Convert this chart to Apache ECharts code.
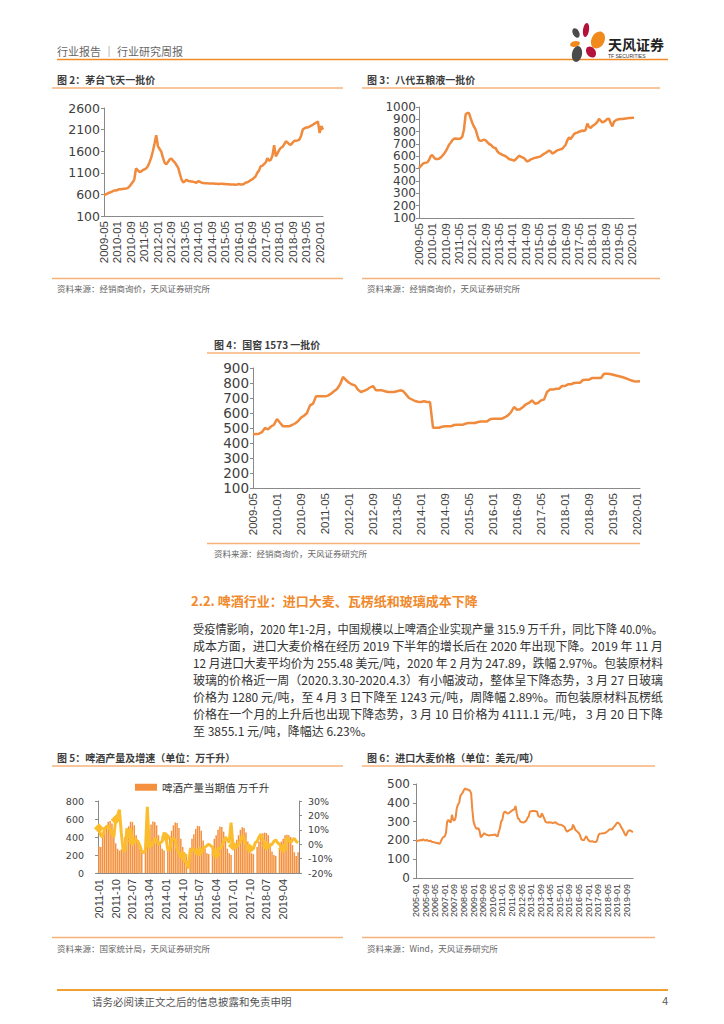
<!DOCTYPE html>
<html>
<head>
<meta charset="utf-8">
<script src="https://cdn.jsdelivr.net/npm/echarts@6/dist/echarts.min.js"></script>
<style>
html,body{margin:0;padding:0;background:#fff;}
#page{position:relative;width:724px;height:1024px;overflow:hidden;}
#chart{position:absolute;left:0;top:0;width:724px;height:1024px;}
.pl{position:absolute;left:193px;height:17px;line-height:17px;white-space:nowrap;font-family:"Noto Sans CJK SC","Noto Sans",sans-serif;font-size:12px;color:#333;transform-origin:0 50%;}
</style>
</head>
<body>
<div id="page"><div id="chart"></div><div id="para"></div></div>
<script>
// ---------- data ----------
const maotaiPrice = [580,600,620,640,650,670,690,690,700,720,720,725,730,735,745,780,830,880,950,1200,1160,1120,1130,1160,1180,1200,1250,1340,1450,1600,1780,1970,1720,1650,1590,1450,1330,1300,1350,1410,1430,1380,1340,1280,1220,1080,950,880,900,940,910,905,900,895,880,870,910,890,870,865,860,860,855,855,850,850,845,845,840,845,845,840,840,835,835,830,830,830,825,830,840,830,830,840,870,880,900,930,950,980,1020,1100,1150,1250,1260,1300,1340,1440,1380,1400,1500,1740,1480,1550,1630,1680,1700,1760,1830,1800,1760,1750,1800,1840,1840,1850,1870,1960,2100,2130,2150,2150,2170,2190,2210,2240,2260,2290,2020,2180,2100];
const wuliangyePrice = [505,520,535,545,548,551,570,600,610,590,578,578,580,590,605,620,640,665,694,710,730,743,745,743,742,745,760,820,940,951,951,910,870,840,816,770,729,725,730,735,730,715,700,694,680,670,667,640,627,620,612,607,600,590,578,575,570,565,575,590,605,598,592,586,570,558,565,575,580,586,588,592,596,600,610,620,627,637,646,640,622,630,640,648,652,658,662,678,694,730,754,740,760,780,789,792,800,803,810,805,816,865,840,830,845,855,865,880,903,890,876,880,890,903,905,870,843,880,892,898,900,902,903,905,907,908,910,911,912,913];
const guojiaoPrice = [458,460,462,473,500,491,510,522,560,535,511,511,511,520,530,545,569,582,600,651,662,711,711,711,711,716,729,745,760,790,840,820,802,790,784,755,740,748,756,770,780,751,751,751,745,740,740,740,745,751,747,724,700,690,680,675,673,678,673,673,502,502,502,508,511,511,511,520,522,522,522,530,533,533,533,540,544,544,544,558,562,562,562,562,572,584,605,640,622,625,640,658,667,684,662,667,684,689,740,756,756,762,762,780,780,791,791,800,802,802,820,822,822,833,833,833,833,862,862,860,855,850,845,840,833,826,818,812,810,811];
const beerOutput = [
 295,290,420,470,530,570,579,550,440,330,270,250,
 260,280,400,450,520,571,565,530,420,330,270,250,
 0,300,420,480,540,571,568,530,420,320,270,250,
 0,290,400,470,530,560,555,500,380,290,230,210,
 0,280,380,430,490,523,520,470,360,270,220,210,
 0,270,380,420,480,516,510,460,360,270,220,200,
 0,290,370,420,480,509,500,450,350,270,220,210,
 0,290,350,390,440,449,445,420,330,240,200,190,
 0,280,350,380,420,424,420,400,310,230,190,230];
const beerGrowth = [11,6,5,11,12,13,10,7,5,17,20,24,8,-4,-5,11,4,11,2,3,3,2,-1,-5,-6,-4,26,0,-1,0,4,3,0,1,2,8,5,-4,-4,3,4,3,-4,-6,-7,-8,-12,-12,-17,-4,-4,-3,-6,-7,-5,-5,-3,-2,-1,0,-1,-2,-6,-7,-3,-3,-2,2,5,3,1,15,-1,-2,-2,0,2,6,3,0,-2,-3,-4,-3,1,2,5,7,3,1,-1,-2,-1,0,2,3,1,0,-2,-3,-3,5,3,1,3,4,2,1];
const barleyPrice = [198,196,200,199,202,200,206,201,199,203,198,196,199,193,192,190,188,186,187,182,184,198,212,218,221,240,300,309,300,295,336,310,305,320,371,390,400,436,446,455,468,477,470,472,468,465,450,362,300,280,265,262,265,250,217,222,232,238,232,230,228,226,228,229,228,230,231,225,221,245,265,300,309,344,353,350,344,343,348,353,358,362,365,383,345,318,313,300,297,296,295,300,305,320,327,353,355,357,357,356,355,353,330,326,325,344,330,316,300,295,295,296,295,295,292,294,297,293,288,285,283,283,280,276,270,255,247,250,255,258,260,284,270,255,250,244,238,224,205,202,200,212,223,210,200,195,194,196,193,192,191,200,225,235,236,237,238,238,240,245,250,256,260,257,262,272,278,288,295,292,285,272,262,250,236,224,238,250,254,252,247,245];

function monthLabels(y, m, n) {
  const a = [];
  for (let i = 0; i < n; i++) {
    const k = m - 1 + i;
    a.push((y + Math.floor(k / 12)) + '-' + String(k % 12 + 1).padStart(2, '0'));
  }
  return a;
}
const maotaiMonths = monthLabels(2009, 5, maotaiPrice.length);
const wuliangyeMonths = monthLabels(2009, 5, wuliangyePrice.length);
const guojiaoMonths = monthLabels(2009, 5, guojiaoPrice.length);
const beerMonths = monthLabels(2011, 1, beerOutput.length);
const barleyMonths = monthLabels(2005, 1, barleyPrice.length);

const paragraphLines = [
 '受疫情影响，2020 年1-2月，中国规模以上啤酒企业实现产量 315.9 万千升，同比下降  40.0%。',
 '成本方面，进口大麦价格在经历 2019 下半年的增长后在 2020 年出现下降。2019 年 11 月',
 '12 月进口大麦平均价为 255.48 美元/吨，2020 年 2 月为 247.89，跌幅 2.97%。包装原材料',
 '玻璃的价格近一周（2020.3.30-2020.4.3）有小幅波动，整体呈下降态势，3 月  27 日玻璃',
 '价格为 1280 元/吨，至 4 月 3 日下降至 1243 元/吨，周降幅 2.89%。而包装原材料瓦楞纸',
 '价格在一个月的上升后也出现下降态势，3 月 10 日价格为 4111.1 元/吨，  3 月 20 日下降',
 '至 3855.1 元/吨，降幅达 6.23%。'
];

// ---------- styles ----------
const ORANGE = '#F08A3C';
const AXIS = '#8a8a8a';
const CJK = '"Noto Sans CJK SC","Noto Sans",sans-serif';
const plain = function (v) { return String(v); };

function xCat(gi, data, step, fs, lh, margin, boundaryGap) {
  return {type:'category', gridIndex:gi, data:data, boundaryGap:boundaryGap,
    axisLine:{show:true, onZero:false, lineStyle:{color:AXIS, width:1}},
    axisTick:{show:false},
    axisLabel:{rotate:90, interval:function (idx) { return idx % step === 0; }, fontSize:fs, lineHeight:lh,
      fontFamily:'Liberation Sans', color:'#404040', margin:margin, hideOverlap:false, showMinLabel:true, showMaxLabel:true},
    splitLine:{show:false}};
}
function yVal(gi, min, max, interval, fs, margin, extra, fmt) {
  return Object.assign({type:'value', gridIndex:gi, min:min, max:max, interval:interval,
    axisLine:{show:true, lineStyle:{color:AXIS, width:1}},
    axisTick:{show:true, length:3, lineStyle:{color:AXIS}},
    axisLabel:{fontSize:fs, lineHeight:Math.min(fs, 10), fontFamily:'DejaVu Sans', color:'#404040', margin:margin,
      formatter:fmt || plain, hideOverlap:false, showMinLabel:true, showMaxLabel:true},
    splitLine:{show:false}}, extra || {});
}
function txt(x, y, text, fs, opts) {
  opts = opts || {};
  return {type:'text', x:x, y:y, silent:true, style:{text:text, fontSize:fs, fontFamily:opts.family || CJK,
    fontWeight:opts.weight || 'normal', fill:opts.fill || '#444', align:opts.align || 'left', verticalAlign:'middle'}};
}
function hline(x1, x2, y, color, w) {
  return {type:'line', silent:true, shape:{x1:x1, y1:y, x2:x2, y2:y}, style:{stroke:color, lineWidth:w}};
}
function petal(cx, cy, rx, ry, rot, color) {
  return {type:'ellipse', x:cx, y:cy, rotation:rot, silent:true, shape:{cx:0, cy:0, rx:rx, ry:ry}, style:{fill:color}};
}

const TL = '#F7B27A';
const graphics = [
  // header
  txt(57, 51, '行业报告 ｜ 行业研究周报', 11, {fill:'#666'}),
  hline(57, 668, 59.5, '#F08A24', 1.5),
  petal(576, 33, 3.2, 5, 0.5, '#4a4a4a'),
  petal(586, 30, 3, 7, -0.15, '#B3123A'),
  petal(598, 40, 6.5, 9, -0.45, '#F18A1C'),
  petal(575, 44, 5, 2.8, 0.2, '#F18A1C'),
  petal(577, 54, 5, 8, -0.2, '#4a4a4a'),
  petal(591, 52, 4.5, 6, 0.6, '#B3123A'),
  txt(608, 44, '天风证券', 14, {weight:'bold', fill:'#222'}),
  txt(608, 56, 'TF SECURITIES', 5, {family:'Liberation Sans', fill:'#333'}),
  // chart 2
  txt(57, 79, '图 2：茅台飞天一批价', 10, {weight:'bold', fill:'#3c3c3c'}),
  hline(52, 343, 88, TL, 1.5),
  hline(52, 343, 278.5, TL, 1.5),
  txt(57, 288, '资料来源：经销商询价，天风证券研究所', 8.5, {fill:'#666'}),
  // chart 3
  txt(367, 79, '图 3：八代五粮液一批价', 10, {weight:'bold', fill:'#3c3c3c'}),
  hline(362, 660, 88, TL, 1.5),
  hline(362, 660, 278.5, TL, 1.5),
  txt(367, 288, '资料来源：经销商询价，天风证券研究所', 8.5, {fill:'#666'}),
  // chart 4
  txt(214, 344, '图 4：国窖 1573 一批价', 10, {weight:'bold', fill:'#3c3c3c'}),
  hline(207, 640, 353, TL, 1.5),
  hline(207, 640, 543.5, TL, 1.5),
  txt(214, 553, '资料来源：经销商询价，天风证券研究所', 8.5, {fill:'#666'}),
  // section heading
  txt(191, 600, '2.2. 啤酒行业：进口大麦、瓦楞纸和玻璃成本下降', 13, {weight:'bold', fill:'#F08A2C'}),
  // chart 5
  txt(57, 757, '图 5：啤酒产量及增速（单位：万千升）', 10, {weight:'bold', fill:'#3c3c3c'}),
  hline(52, 343, 766, TL, 1.5),
  hline(52, 343, 937.5, TL, 1.5),
  txt(57, 947.5, '资料来源：国家统计局，天风证券研究所', 8.5, {fill:'#666'}),
  // chart 6
  txt(367, 757, '图 6：进口大麦价格（单位：美元/吨）', 10, {weight:'bold', fill:'#3c3c3c'}),
  hline(362, 655, 766, TL, 1.5),
  hline(362, 655, 937.5, TL, 1.5),
  txt(367, 947.5, '资料来源：Wind，天风证券研究所', 8.5, {fill:'#666'}),
  // footer
  hline(57, 668, 990, '#F0A030', 2),
  txt(92, 1001, '请务必阅读正文之后的信息披露和免责申明', 10.5, {fill:'#555'}),
  txt(668, 1001, '4', 10.5, {family:'Liberation Sans', fill:'#555', align:'right'})
];

const chart = echarts.init(document.getElementById('chart'), null, {renderer:'svg'});
chart.setOption({
  animation:false,
  backgroundColor:'#fff',
  grid:[
    {left:104, top:108, width:219, height:108},
    {left:419, top:107, width:215, height:111},
    {left:253, top:368, width:387, height:120},
    {left:98, top:801, width:201, height:72},
    {left:416, top:784, width:217, height:94}
  ],
  legend:{left:130, top:777, itemWidth:22, itemHeight:7, itemGap:6,
    textStyle:{fontSize:10.5, fontFamily:CJK, color:'#333'},
    data:[{name:'啤酒产量当期值 万千升', icon:'rect'}]},
  xAxis:[
    xCat(0, maotaiMonths, 8, 11.5, 10, 5, false),
    xCat(1, wuliangyeMonths, 8, 11.5, 10, 5, false),
    xCat(2, guojiaoMonths, 8, 11.5, 10, 5, false),
    xCat(3, beerMonths, 9, 11, 10, 6, true),
    xCat(4, barleyMonths, 8, 9, 7, 6, false)
  ],
  yAxis:[
    yVal(0, 100, 2600, 500, 12.5, 4),
    yVal(1, 100, 1000, 100, 12, 3),
    yVal(2, 100, 900, 100, 13.5, 4),
    yVal(3, 0, 800, 200, 9.5, 14),
    yVal(3, -20, 30, 10, 9.5, 9, {position:'right'}, function (v) { return v + '%'; }),
    yVal(4, 0, 500, 100, 12, 6)
  ],
  graphic:graphics,
  series:[
    {type:'line', name:'茅台飞天一批价', xAxisIndex:0, yAxisIndex:0, data:maotaiPrice, showSymbol:false, lineStyle:{color:ORANGE, width:2.5}, itemStyle:{color:ORANGE}},
    {type:'line', name:'八代五粮液一批价', xAxisIndex:1, yAxisIndex:1, data:wuliangyePrice, showSymbol:false, lineStyle:{color:ORANGE, width:2.5}, itemStyle:{color:ORANGE}},
    {type:'line', name:'国窖1573一批价', xAxisIndex:2, yAxisIndex:2, data:guojiaoPrice, showSymbol:false, lineStyle:{color:ORANGE, width:2.5}, itemStyle:{color:ORANGE}},
    {type:'bar', name:'啤酒产量当期值 万千升', xAxisIndex:3, yAxisIndex:3, data:beerOutput, barCategoryGap:'20%', itemStyle:{color:'#F4913E'}},
    {type:'line', name:'啤酒产量当期同比', xAxisIndex:3, yAxisIndex:4, data:beerGrowth, symbol:'diamond', symbolSize:10, showSymbol:true, lineStyle:{color:'#FBBD2E', width:3}, itemStyle:{color:'#FBBD2E'}},
    {type:'line', name:'进口大麦价格', xAxisIndex:4, yAxisIndex:5, data:barleyPrice, showSymbol:false, lineStyle:{color:ORANGE, width:2}, itemStyle:{color:ORANGE}}
  ]
});

// paragraph as real text, each line justified to the original width
const para = document.getElementById('para');
const TARGET = 470;
paragraphLines.forEach(function (t, i) {
  const d = document.createElement('div');
  d.className = 'pl';
  d.style.top = (628 + 17 * i - 8.5) + 'px';
  const s = document.createElement('span');
  s.textContent = t;
  d.appendChild(s);
  para.appendChild(d);
  if (i < paragraphLines.length - 1) {
    const w = s.getBoundingClientRect().width;
    if (w > TARGET) {
      d.style.transform = 'scaleX(' + (TARGET / w) + ')';
    } else {
      s.style.letterSpacing = ((TARGET - w) / (t.length - 1)) + 'px';
    }
  }
});
</script>
</body>
</html>
